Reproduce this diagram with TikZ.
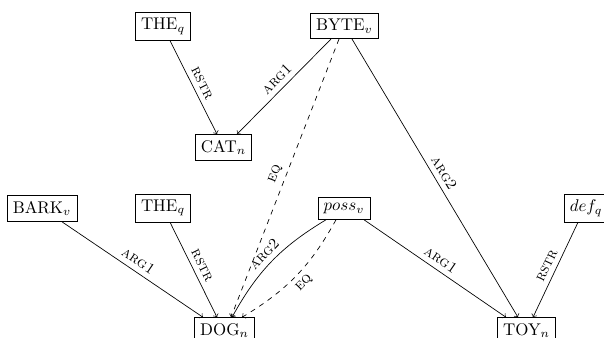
\documentclass[tikz,border=0pt]{standalone}
\usetikzlibrary{calc}
\begin{document}
\begin{tikzpicture}[x=0.59pt,y=-0.59pt,
  box/.style={draw, inner sep=0.333em},
  lab/.style={font=\small\scshape, sloped, above, midway, inner sep=3pt},
  labb/.style={font=\small\scshape, sloped, below, midway, inner sep=3pt},
  edge/.style={->},
  eq/.style={->, dashed}]
\useasboundingbox (0,0) rectangle (604,337);
\node[box] (the1) at (163,26.5) {THE$_q$};
\node[box] (byte) at (344.5,26) {BYTE$_v$};
\node[box] (cat) at (223.5,147.5) {CAT$_n$};
\node[box] (bark) at (42,208.5) {BARK$_v$};
\node[box] (the2) at (163,208) {THE$_q$};
\node[box] (poss) at (344,208.5) {$poss_v$};
\node[box] (def) at (586,208) {$def_q$};
\node[box] (dog) at (224.5,330.5) {DOG$_n$};
\node[box] (toy) at (526.5,330.5) {TOY$_n$};
% top part
\draw[edge] ($(the1.south)+(7,0)$) -- ($(cat.north)+(-6.5,0)$) node[lab] {rstr};
\draw[edge] ($(byte.south)+(-13.5,0)$) -- ($(cat.north)+(13.5,0)$) node[lab] {arg1};
\draw[eq] ($(byte.south)+(-5.5,0)$) -- ($(dog.north)+(6.5,0)$) node[lab] {eq};
\draw[edge] ($(byte.south)+(7.5,0)$) -- ($(toy.north)+(-8.5,0)$) node[lab] {arg2};
% bottom part
\draw[edge] ($(bark.south)+(20,0)$) -- ($(dog.north)+(-21.5,0)$) node[lab] {arg1};
\draw[edge] ($(the2.south)+(7,0)$) -- ($(dog.north)+(-7.5,0)$) node[lab] {rstr};
\draw[edge] ($(poss.south)+(-18,0)$) to[bend right=15] node[lab] {arg2} ($(dog.north)+(7.5,0)$);
\draw[eq] ($(poss.south)+(-8,0)$) to[bend left=15] node[labb] {eq} ($(dog.north)+(17.5,0)$);
\draw[edge] ($(poss.south)+(20,0)$) -- ($(toy.north)+(-20.5,0)$) node[lab] {arg1};
\draw[edge] ($(def.south)+(-8,0)$) -- ($(toy.north)+(6.5,0)$) node[lab] {rstr};
\end{tikzpicture}
\end{document}
